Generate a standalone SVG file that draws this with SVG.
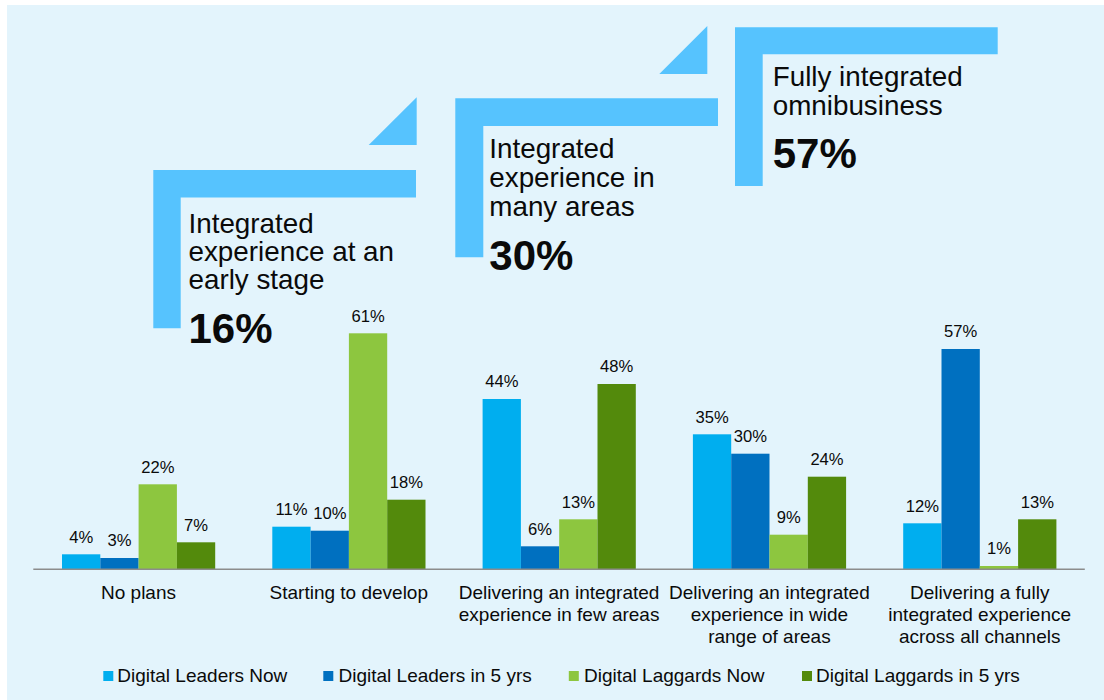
<svg xmlns="http://www.w3.org/2000/svg" width="1104" height="700" viewBox="0 0 1104 700">
<style>
text{font-family:"Liberation Sans",Arial,sans-serif;fill:#0a0a0a}
.step{fill:#56C3FE}
.big{font-size:27.8px}
.pct{font-size:42px;font-weight:bold}
.val{font-size:16.6px;text-anchor:middle}
.cat{font-size:19px;text-anchor:middle}
.leg{font-size:19px}
.c1{fill:#00AEEF}.c2{fill:#0070C0}.c3{fill:#8DC63F}.c4{fill:#538A0C}
</style>
<rect x="7" y="5" width="1097" height="695" fill="#E3F4FC"/>
<g id="stage1">
<path class="step" d="M153.3 170H416V197.5H180.7V328.3H153.3Z"/>
<path class="step" d="M416.7 97.3L416.7 145L368.7 145Z"/>
<text class="big" x="188.5" y="232.7">Integrated</text>
<text class="big" x="188.5" y="261">experience at an</text>
<text class="big" x="188.5" y="289.3">early stage</text>
<text class="pct" x="188.5" y="343.3">16%</text>
</g>
<g id="stage2">
<path class="step" d="M455.3 98.3H718V126H483.3V257.3H455.3Z"/>
<path class="step" d="M707.3 26L707.3 74L659.3 74Z"/>
<text class="big" x="489.3" y="158.3">Integrated</text>
<text class="big" x="489.3" y="187.3">experience in</text>
<text class="big" x="489.3" y="216">many areas</text>
<text class="pct" x="489.3" y="270">30%</text>
</g>
<g id="stage3">
<path class="step" d="M735 27.3H997.7V54.3H762.7V186H735Z"/>
<text class="big" x="772.7" y="86">Fully integrated</text>
<text class="big" x="772.7" y="115">omnibusiness</text>
<text class="pct" x="772.7" y="167.7">57%</text>
</g>
<g id="bars">
<rect class="c1" x="62" y="554.3" width="38.3" height="14.7"/>
<rect class="c2" x="100.3" y="558" width="38.3" height="11"/>
<rect class="c3" x="138.6" y="484.3" width="38.3" height="84.7"/>
<rect class="c4" x="176.9" y="542.3" width="38.3" height="26.7"/>
<rect class="c1" x="272.3" y="526.7" width="38.3" height="42.3"/>
<rect class="c2" x="310.6" y="530.7" width="38.3" height="38.3"/>
<rect class="c3" x="348.9" y="333.3" width="38.3" height="235.7"/>
<rect class="c4" x="387.2" y="499.7" width="38.3" height="69.3"/>
<rect class="c1" x="482.6" y="399" width="38.3" height="170"/>
<rect class="c2" x="520.9" y="546.3" width="38.3" height="22.7"/>
<rect class="c3" x="559.2" y="519.3" width="38.3" height="49.7"/>
<rect class="c4" x="597.5" y="384" width="38.3" height="185"/>
<rect class="c1" x="692.9" y="434.3" width="38.3" height="134.7"/>
<rect class="c2" x="731.2" y="453.7" width="38.3" height="115.3"/>
<rect class="c3" x="769.5" y="534.7" width="38.3" height="34.3"/>
<rect class="c4" x="807.8" y="476.7" width="38.3" height="92.3"/>
<rect class="c1" x="903.2" y="523.3" width="38.3" height="45.7"/>
<rect class="c2" x="941.5" y="349" width="38.3" height="220"/>
<rect class="c3" x="979.8" y="566" width="38.3" height="3"/>
<rect class="c4" x="1018.1" y="519.3" width="38.3" height="49.7"/>
</g>
<g id="connectors">
<line x1="33.3" y1="569.3" x2="1084.8" y2="569.3" stroke="#8C8C8C" stroke-width="1.5"/>
</g>
<g id="values">
<text class="val" x="81.2" y="542.5">4%</text>
<text class="val" x="119.5" y="546.2">3%</text>
<text class="val" x="157.8" y="472.5">22%</text>
<text class="val" x="196.1" y="530.5">7%</text>
<text class="val" x="291.5" y="514.9">11%</text>
<text class="val" x="329.8" y="518.9">10%</text>
<text class="val" x="368.1" y="321.5">61%</text>
<text class="val" x="406.4" y="487.9">18%</text>
<text class="val" x="501.8" y="387.2">44%</text>
<text class="val" x="540.1" y="534.5">6%</text>
<text class="val" x="578.4" y="507.5">13%</text>
<text class="val" x="616.7" y="372.2">48%</text>
<text class="val" x="712.1" y="422.5">35%</text>
<text class="val" x="750.4" y="441.9">30%</text>
<text class="val" x="788.7" y="522.9">9%</text>
<text class="val" x="827" y="464.9">24%</text>
<text class="val" x="922.4" y="511.5">12%</text>
<text class="val" x="960.7" y="337.2">57%</text>
<text class="val" x="999" y="554.2">1%</text>
<text class="val" x="1037.3" y="507.5">13%</text>
</g>
<g id="categories">
<text class="cat" x="138.5" y="599.3">No plans</text>
<text class="cat" x="348.8" y="599.3">Starting to develop</text>
<text class="cat" x="559.1" y="599.3">Delivering an integrated</text>
<text class="cat" x="559.1" y="621">experience in few areas</text>
<text class="cat" x="769.4" y="599.3">Delivering an integrated</text>
<text class="cat" x="769.4" y="621">experience in wide</text>
<text class="cat" x="769.4" y="642.7">range of areas</text>
<text class="cat" x="979.7" y="599.3">Delivering a fully</text>
<text class="cat" x="979.7" y="621">integrated experience</text>
<text class="cat" x="979.7" y="642.7">across all channels</text>
</g>
<g id="legend">
<rect class="c1" x="103.3" y="671" width="10" height="10"/>
<text class="leg" x="117.3" y="681.7">Digital Leaders Now</text>
<rect class="c2" x="323.3" y="671" width="10" height="10"/>
<text class="leg" x="338.5" y="681.7">Digital Leaders in 5 yrs</text>
<rect class="c3" x="568.8" y="671" width="10" height="10"/>
<text class="leg" x="584" y="681.7">Digital Laggards Now</text>
<rect class="c4" x="802" y="671" width="10" height="10"/>
<text class="leg" x="816" y="681.7">Digital Laggards in 5 yrs</text>
</g>
</svg>
